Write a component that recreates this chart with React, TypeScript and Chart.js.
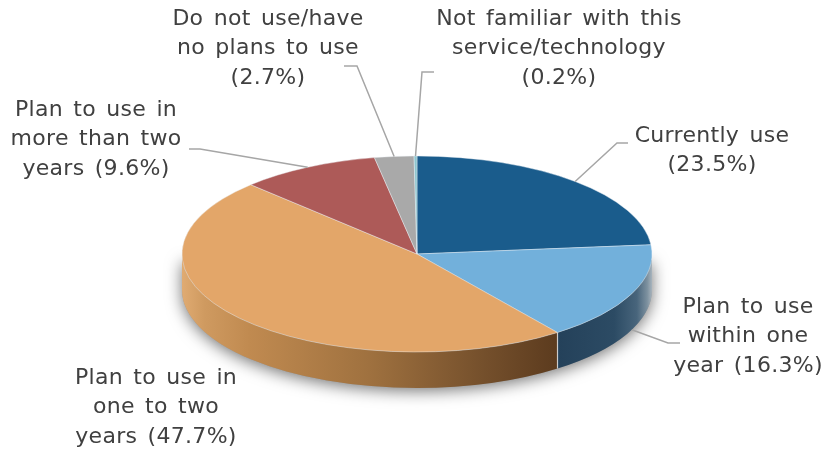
import React, { useEffect, useRef } from "react";
import Chart from "chart.js/auto";

const categories = [
  "Currently use",
  "Plan to use within one year",
  "Plan to use in one to two years",
  "Plan to use in more than two years",
  "Do not use/have no plans to use",
  "Not familiar with this service/technology",
];
const shares = [23.5, 16.3, 47.7, 9.6, 2.7, 0.2];
const topColors = ["#1a5c8c", "#72b0db", "#e3a669", "#ad5a58", "#a9a9a9", "#8ec6cf"];
const labelLines = [
  ["Currently use", "(23.5%)"],
  ["Plan to use", "within one", "year (16.3%)"],
  ["Plan to use in", "one to two", "years (47.7%)"],
  ["Plan to use in", "more than two", "years (9.6%)"],
  ["Do not use/have", "no plans to use", "(2.7%)"],
  ["Not familiar with this", "service/technology", "(0.2%)"],
];
const labelCenters = [
  [712, 136],
  [748, 307],
  [156, 378],
  [96, 110],
  [268, 19],
  [559, 19],
];
// leader: end next to the text, elbow; third point comes from the slice itself
const leaders = [
  [[628, 143], [617, 143]],
  [[680, 343], [668, 343]],
  null,
  [[189, 149], [200, 149]],
  [[344, 66], [357, 66]],
  [[434, 72], [422, 72]],
];
const SQUASH = 98 / 235;
const DEPTH = 36;
const RADIUS = 235;
const LINE_STEP = 29.6;

const sideStops: Record<number, [number, string][]> = {
  1: [
    [0, "#24415a"],
    [0.6, "#2c4b64"],
    [0.84, "#48657c"],
    [0.95, "#7d919f"],
    [1, "#a8b4bd"],
  ],
  2: [
    [0, "#e0ab72"],
    [0.06, "#cf9a60"],
    [0.18, "#c08a50"],
    [0.5, "#9f713f"],
    [0.8, "#75502c"],
    [1, "#5c3b1e"],
  ],
};

const pie3d = {
  id: "pie3d",
  beforeDatasetsDraw(chart: any) {
    const ctx = chart.ctx;
    const arcs = chart.getDatasetMeta(0).data;
    const { x: cx, y: cy } = arcs[0];
    const r = arcs[0].outerRadius;
    const ry = r * SQUASH;

    // soft shadow around the lower part of the disc
    ctx.save();
    ctx.shadowColor = "rgba(0,0,0,0.55)";
    ctx.shadowBlur = 16;
    ctx.shadowOffsetY = 3;
    ctx.fillStyle = "#999";
    ctx.beginPath();
    ctx.moveTo(cx - r, cy + 6);
    ctx.lineTo(cx + r, cy + 6);
    ctx.lineTo(cx + r, cy + DEPTH);
    ctx.ellipse(cx, cy + DEPTH, r, ry, 0, 0, Math.PI, false);
    ctx.closePath();
    ctx.fill();
    ctx.restore();

    // the disc's own rim fills any gap above the shadow shape
    arcs.forEach((arc: any, i: number) => {
      const stops = sideStops[i];
      if (!stops) return;
      const a1 = Math.max(arc.startAngle, 0);
      const a2 = Math.min(arc.endAngle, Math.PI);
      if (a2 <= a1) return;
      const seamX = cx + r * Math.cos(i === 1 ? a2 : a1);
      const grad =
        i === 1
          ? ctx.createLinearGradient(seamX, 0, cx + r, 0)
          : ctx.createLinearGradient(cx - r, 0, seamX, 0);
      stops.forEach(([o, c]) => grad.addColorStop(o, c));
      ctx.beginPath();
      ctx.ellipse(cx, cy, r, ry, 0, a1, a2, false);
      ctx.lineTo(cx + r * Math.cos(a2), cy + ry * Math.sin(a2) + DEPTH);
      ctx.ellipse(cx, cy + DEPTH, r, ry, 0, a2, a1, true);
      ctx.closePath();
      ctx.fillStyle = grad;
      ctx.fill();
    });

    // pale seam between front side faces
    const seam = arcs[1].endAngle;
    ctx.strokeStyle = "rgba(225,225,225,0.85)";
    ctx.lineWidth = 1.2;
    ctx.beginPath();
    ctx.moveTo(cx + r * Math.cos(seam), cy + ry * Math.sin(seam));
    ctx.lineTo(cx + r * Math.cos(seam), cy + ry * Math.sin(seam) + DEPTH);
    ctx.stroke();

    ctx.save();
    ctx.translate(cx, cy);
    ctx.scale(1, SQUASH);
    ctx.translate(-cx, -cy);
  },
  afterDatasetsDraw(chart: any) {
    const ctx = chart.ctx;
    ctx.restore();
    const arcs = chart.getDatasetMeta(0).data;
    const { x: cx, y: cy } = arcs[0];
    const r = arcs[0].outerRadius;
    const ry = r * SQUASH;

    ctx.strokeStyle = "#a6a6a6";
    ctx.lineWidth = 1.5;
    leaders.forEach((pts, i) => {
      if (!pts) return;
      const mid = (arcs[i].startAngle + arcs[i].endAngle) / 2;
      const ax = cx + r * Math.cos(mid);
      let ay = cy + ry * Math.sin(mid);
      if (Math.sin(mid) > 0) ay += DEPTH;
      ctx.beginPath();
      ctx.moveTo(pts[0][0], pts[0][1]);
      ctx.lineTo(pts[1][0], pts[1][1]);
      ctx.lineTo(ax, ay);
      ctx.stroke();
    });

    ctx.fillStyle = "#404040";
    ctx.font = '22px "DejaVu Sans"';
    ctx.letterSpacing = "0.3px";
    ctx.wordSpacing = "3px";
    ctx.textAlign = "center";
    ctx.textBaseline = "middle";
    labelLines.forEach((lines, i) => {
      lines.forEach((t, j) => {
        ctx.fillText(t, labelCenters[i][0], labelCenters[i][1] + j * LINE_STEP);
      });
    });
  },
};

export default function App() {
  const ref = useRef<HTMLCanvasElement>(null);
  useEffect(() => {
    document.body.style.margin = "0";
    const chart = new Chart(ref.current!, {
      type: "pie",
      data: {
        labels: categories,
        datasets: [
          {
            data: shares,
            backgroundColor: topColors,
            borderColor: "rgba(235,240,245,0.6)",
            borderWidth: 1,
          },
        ],
      },
      options: {
        responsive: false,
        animation: false,
        radius: RADIUS,
        layout: { padding: { top: 54, left: 11, right: 0, bottom: 0 } },
        plugins: { legend: { display: false }, tooltip: { enabled: false } },
      } as any,
      plugins: [pie3d],
    });
    return () => chart.destroy();
  }, []);
  return <canvas ref={ref} width={823} height={454} style={{ display: "block" }} />;
}
